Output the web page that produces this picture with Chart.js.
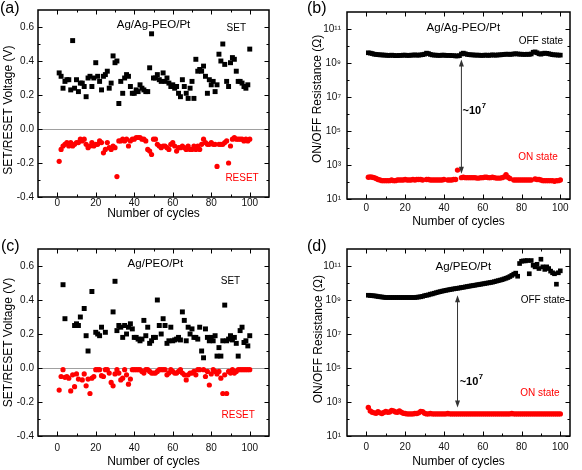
<!DOCTYPE html>
<html>
<head>
<meta charset="utf-8">
<title>Switching cycles</title>
<style>
  html, body { margin: 0; padding: 0; background: #fff; }
  canvas { position: absolute; }
  #ca { left: 0; top: 0; }
  #cb { left: 291px; top: 0; }
  #cc { left: 0; top: 235px; }
  #cd { left: 291px; top: 235px; }
</style>
</head>
<body>
<canvas id="ca" width="291" height="235"></canvas>
<canvas id="cb" width="291" height="235"></canvas>
<canvas id="cc" width="291" height="235"></canvas>
<canvas id="cd" width="291" height="235"></canvas>
<script src="https://cdn.jsdelivr.net/npm/chart.js"></script>
<script>
// ---- data ----
const cycles = Array.from({ length: 100 }, (_, i) => i + 1);

const setA = [0.33,0.31,0.24,0.28,0.29,0.29,0.23,0.52,0.24,0.29, 0.22,0.27,0.27,0.25,0.19,0.30,0.31,0.25,0.30,0.39,
  0.31,0.28,0.23,0.31,0.32,0.34,0.24,0.27,0.43,0.39, 0.40,0.15,0.28,0.21,0.30,0.32,0.31,0.25,0.21,0.21,
  0.23,0.22,0.26,0.24,0.23,0.22,0.22,0.36,0.56,0.30, 0.30,0.32,0.29,0.28,0.33,0.28,0.30,0.27,0.25,0.26,
  0.24,0.25,0.21,0.19,0.29,0.25,0.21,0.18,0.24,0.28, 0.18,0.41,0.34,0.35,0.34,0.37,0.31,0.21,0.29,0.26,
  0.28,0.22,0.26,0.44,0.40,0.50,0.38,0.28,0.25,0.39, 0.42,0.41,0.34,0.28,0.28,0.27,0.25,0.24,0.26,0.47];
const resetA = [-0.19,-0.12,-0.10,-0.09,-0.08,-0.10,-0.08,-0.10,-0.09,-0.08, -0.08,-0.06,-0.07,-0.06,-0.09,-0.11,-0.10,-0.08,-0.10,-0.09,
  -0.09,-0.07,-0.08,-0.14,-0.12,-0.08,-0.11,-0.12,-0.10,-0.11, -0.28,-0.07,-0.07,-0.06,-0.07,-0.06,-0.10,-0.07,-0.06,-0.06,
  -0.05,-0.05,-0.05,-0.06,-0.06,-0.07,-0.12,-0.13,-0.15,-0.06, -0.06,-0.09,-0.10,-0.11,-0.10,-0.10,-0.11,-0.12,-0.09,-0.08,
  -0.10,-0.13,-0.11,-0.11,-0.10,-0.11,-0.12,-0.10,-0.12,-0.12, -0.10,-0.12,-0.10,-0.12,-0.09,-0.06,-0.08,-0.09,-0.09,-0.08,
  -0.09,-0.09,-0.22,-0.09,-0.09,-0.09,-0.08,-0.07,-0.20,-0.10, -0.06,-0.05,-0.06,-0.06,-0.06,-0.06,-0.07,-0.06,-0.07,-0.06];

const offB = [4.0e9,3.8e9,3.6e9,3.3e9,3.2e9,3.1e9,3.0e9,3.0e9,2.9e9,2.9e9, 2.8e9,2.8e9,2.9e9,2.8e9,2.7e9,2.7e9,2.8e9,2.8e9,2.9e9,2.9e9,
  2.8e9,2.8e9,2.9e9,2.9e9,3.0e9,2.9e9,2.9e9,3.0e9,3.1e9,3.3e9, 3.8e9,3.6e9,3.2e9,3.0e9,2.9e9,2.9e9,2.8e9,2.8e9,2.9e9,2.9e9,
  2.8e9,2.8e9,2.8e9,2.7e9,2.7e9,2.6e9,2.6e9,2.7e9,3.4e9,3.8e9, 3.5e9,3.2e9,3.1e9,3.0e9,3.0e9,2.9e9,2.9e9,2.9e9,2.8e9,2.8e9,
  2.9e9,2.9e9,2.8e9,2.9e9,3.0e9,2.9e9,2.9e9,3.0e9,3.0e9,3.1e9, 3.2e9,3.3e9,3.3e9,3.2e9,3.3e9,3.4e9,3.5e9,3.4e9,3.3e9,3.3e9,
  3.2e9,3.2e9,3.3e9,3.2e9,3.4e9,4.3e9,4.5e9,4.0e9,3.5e9,3.3e9, 3.6e9,3.8e9,3.7e9,3.5e9,3.3e9,3.1e9,3.0e9,3.0e9,2.9e9,2.9e9];
const onB = [190,200,190,180,160,140,130,120,120,120, 120,120,130,120,120,130,130,130,130,140,
  130,130,130,140,130,140,140,140,130,null, 140,140,130,130,130,130,130,130,130,140,
  null,130,130,130,140,140,500,null,180,190, 180,180,180,180,180,180,170,170,180,180,
  190,190,180,180,190,180,170,170,170,180, 200,270,190,160,null,130,130,130,130,130,
  130,130,130,130,130,null,150,140,140,130, 120,120,120,120,120,120,110,120,120,130];

const setC = [null,null,0.49,0.29,null,null,null,null,0.25,0.26, 0.25,0.30,null,0.35,0.19,0.10,null,0.45,null,0.21,
  0.20,0.19,0.24,null,0.21,null,null,null,0.33,0.51, 0.22,0.25,0.24,0.18,0.25,0.20,0.24,0.26,0.23,0.18,
  0.18,0.17,0.16,0.17,0.28,0.19,0.24,0.145,0.16,0.18, 0.18,0.40,0.25,0.20,0.29,0.25,0.145,0.16,0.24,0.16,
  0.165,0.17,0.18,0.165,0.33,0.28,0.16,0.24,0.20,0.23, 0.18,0.18,0.17,0.24,0.10,0.06,0.23,0.18,0.16,0.18,
  0.16,0.19,0.07,0.12,0.07,0.16,0.37,0.16,0.17,0.19, 0.165,0.18,0.145,0.07,0.22,0.24,0.15,0.16,0.13,0.19];
const resetC = [-0.13,-0.05,-0.01,-0.055,-0.05,-0.06,-0.135,-0.04,-0.11,-0.035, -0.065,null,-0.07,-0.035,-0.105,-0.065,-0.15,-0.06,-0.05,-0.01,
  -0.01,-0.01,-0.045,-0.05,-0.01,-0.01,-0.03,-0.085,-0.105,-0.035, -0.01,-0.03,-0.07,-0.06,-0.01,-0.04,-0.095,-0.065,-0.01,-0.01,
  -0.01,-0.01,-0.01,-0.02,-0.03,-0.01,-0.01,-0.02,-0.03,-0.03, -0.03,-0.02,-0.01,-0.01,-0.01,-0.01,-0.04,-0.03,-0.01,-0.02,
  -0.03,-0.03,-0.02,-0.01,-0.03,-0.04,-0.07,-0.04,-0.03,-0.03, -0.02,-0.04,-0.01,-0.01,null,-0.01,-0.05,-0.02,-0.10,-0.035,
  -0.01,-0.02,-0.035,-0.02,-0.06,-0.15,-0.04,-0.15,-0.02,-0.03, -0.01,-0.03,-0.02,-0.01,-0.01,-0.01,-0.01,-0.01,-0.01,-0.01];

const offD = [1.9e9,1.85e9,1.8e9,1.75e9,1.7e9,1.6e9,1.55e9,1.5e9,1.45e9,1.4e9, 1.4e9,1.4e9,1.4e9,1.4e9,1.4e9,1.4e9,1.4e9,1.4e9,1.4e9,1.4e9,
  1.4e9,1.4e9,1.4e9,1.4e9,1.4e9,1.45e9,1.5e9,1.55e9,1.65e9,1.8e9, 1.9e9,2.0e9,2.2e9,2.3e9,2.5e9,2.7e9,2.9e9,3.1e9,3.3e9,3.5e9,
  3.7e9,3.9e9,4.1e9,4.3e9,4.5e9,4.7e9,4.9e9,5.1e9,5.4e9,5.6e9, 5.9e9,6.2e9,6.5e9,6.8e9,7.1e9,7.4e9,7.8e9,8.1e9,8.5e9,8.9e9,
  9.3e9,9.8e9,1.02e10,1.07e10,1.12e10,1.2e10,1.29e10,1.38e10,1.48e10,1.58e10, 1.74e10,1.9e10,2.1e10,2.4e10,2.8e10,3.3e10,3.8e10,2.5e10,1.4e11,1.9e11,
  2.0e11,2.0e11,2.1e11,3.5e10,2.1e11,1.1e11,8.9e10,1.26e11,7.1e10,2.5e11, 8.9e10,6.3e10,8.9e10,7.1e10,5.0e10,4.0e10,3.5e10,8.5e9,4.0e10,5.2e10];
const onD = [470,300,250,230,220,270,230,210,240,280, 250,260,320,300,260,250,300,250,220,210,
  200,200,200,200,210,210,230,280,270,220, 200,200,210,200,200,200,200,200,200,200,
  200,210,200,200,200,200,200,200,200,200, 200,200,200,200,200,200,200,200,200,200,
  200,200,200,200,200,200,200,200,200,200, 200,200,200,200,210,200,200,200,200,200,
  200,200,200,200,200,200,200,200,200,200, 200,200,200,200,200,200,200,200,200,200];

const cycleTicks = [0, 20, 40, 60, 80, 100];
const cycleMinor = [10, 30, 50, 70, 90];
const voltTicks = [-0.4, -0.2, 0, 0.2, 0.4, 0.6];
const voltMinor = [-0.3, -0.1, 0.1, 0.3, 0.5];
const resTicks = [1e1, 1e3, 1e5, 1e7, 1e9, 1e11];
const resMinor = [1e2, 1e4, 1e6, 1e8, 1e10];

// ---- drawing ----
const FONT = "'Liberation Sans', Arial, sans-serif";
Chart.defaults.font.family = FONT;
Chart.defaults.color = '#000';

const SUP = { '0': '\u2070', '1': '\u00b9', '2': '\u00b2', '3': '\u00b3', '4': '\u2074',
  '5': '\u2075', '6': '\u2076', '7': '\u2077', '8': '\u2078', '9': '\u2079' };
const pow10 = v => '10' + String(Math.round(Math.log10(v))).split('').map(c => SUP[c]).join('');
const pts = arr => arr.map((v, i) => ({ x: cycles[i], y: v }));

const deco = {
  id: 'deco',
  afterDatasetsDraw(chart, args, o) {
    const { ctx, chartArea: a, scales: { x, y } } = chart;
    ctx.save();
    ctx.strokeStyle = '#000';
    ctx.lineWidth = 1;
    ctx.beginPath();
    const xt = o.xMajor.map(v => [v, 4.5]).concat(o.xMinor.map(v => [v, 2.5]));
    xt.forEach(([v, len]) => {
      const p = Math.round(x.getPixelForValue(v)) + 0.5;
      ctx.moveTo(p, a.bottom); ctx.lineTo(p, a.bottom - len);
      ctx.moveTo(p, a.top); ctx.lineTo(p, a.top + len);
    });
    const yt = o.yMajor.map(v => [v, 4.5]).concat(o.yMinor.map(v => [v, 2.5]));
    yt.forEach(([v, len]) => {
      const p = Math.round(y.getPixelForValue(v)) + 0.5;
      ctx.moveTo(a.left, p); ctx.lineTo(a.left + len, p);
      ctx.moveTo(a.right, p); ctx.lineTo(a.right - len, p);
    });
    ctx.stroke();
    ctx.lineWidth = 1.5;
    ctx.strokeRect(a.left, a.top, a.right - a.left, a.bottom - a.top);

    // arrow
    if (o.arrow) {
      const ax = x.getPixelForValue(o.arrow.x);
      const y1 = y.getPixelForValue(o.arrow.from), y2 = y.getPixelForValue(o.arrow.to);
      ctx.strokeStyle = '#333'; ctx.fillStyle = '#333'; ctx.lineWidth = 1;
      ctx.beginPath(); ctx.moveTo(ax, y1 + 4); ctx.lineTo(ax, y2 - 4); ctx.stroke();
      ctx.beginPath();
      ctx.moveTo(ax, y1); ctx.lineTo(ax - 2.5, y1 + 7); ctx.lineTo(ax + 2.5, y1 + 7); ctx.closePath();
      ctx.moveTo(ax, y2); ctx.lineTo(ax - 2.5, y2 - 7); ctx.lineTo(ax + 2.5, y2 - 7); ctx.closePath();
      ctx.fill();
    }

    // notes
    ctx.textBaseline = 'middle';
    o.notes.forEach(n => {
      const px = x.getPixelForValue(n.x), py = y.getPixelForValue(n.y);
      ctx.fillStyle = n.color || '#000';
      const f = `${n.bold ? 'bold ' : ''}${n.size}px ${FONT}`;
      ctx.font = f;
      if (n.sup) {
        const w1 = ctx.measureText(n.text).width;
        ctx.font = `${n.bold ? 'bold ' : ''}${n.size * 0.7}px ${FONT}`;
        const w2 = ctx.measureText(n.sup).width;
        const left = px - (w1 + w2) / 2;
        ctx.textAlign = 'left';
        ctx.fillText(n.sup, left + w1 + 0.5, py - n.size * 0.4);
        ctx.font = f;
        ctx.fillText(n.text, left, py);
      } else {
        ctx.textAlign = 'center';
        ctx.fillText(n.text, px, py);
      }
    });

    // panel letter
    ctx.fillStyle = '#000';
    ctx.font = `16px ${FONT}`;
    ctx.textAlign = 'left';
    ctx.fillText(o.letter.text, o.letter.x, o.letter.y);
    ctx.restore();
  }
};

function panel(id, g, cfg) {
  const W = 291, H = 235;
  const logY = cfg.yType === 'logarithmic';
  new Chart(document.getElementById(id), {
    type: 'scatter',
    data: { datasets: cfg.datasets },
    options: {
      responsive: false,
      animation: false,
      layout: { padding: { left: 0, top: g.top, right: W - g.right, bottom: 0 } },
      plugins: {
        legend: { display: false },
        tooltip: { enabled: false },
        deco: cfg.deco
      },
      scales: {
        x: {
          type: 'linear', min: -10, max: cfg.xMax,
          afterFit: s => { s.height = H - g.bottom; },
          afterBuildTicks: s => { s.ticks = cycleTicks.map(v => ({ value: v })); },
          grid: { display: false, drawTicks: false },
          border: { display: false },
          ticks: { padding: g.xPad, autoSkip: false, maxRotation: 0, font: { size: 10 }, color: '#111' },
          title: { display: true, text: 'Number of cycles', font: { size: 12 }, padding: { top: 0, bottom: g.xTitlePad } }
        },
        y: {
          type: cfg.yType, min: cfg.yMin, max: cfg.yMax,
          afterFit: s => { s.width = g.left; },
          afterBuildTicks: s => { s.ticks = cfg.yTicks.map(v => ({ value: v })); },
          grid: {
            drawTicks: false,
            color: c => (!logY && c.tick && c.tick.value === 0) ? '#a0a0a0' : 'rgba(0,0,0,0)'
          },
          border: { display: false },
          ticks: {
            padding: g.yPad, autoSkip: false, font: { size: 10 }, color: '#111',
            callback: v => logY ? pow10(v) : Number(v).toFixed(1)
          },
          title: { display: true, text: cfg.yTitle, font: { size: 12 }, padding: { top: g.yTitlePad, bottom: 0 } }
        }
      }
    },
    plugins: [deco]
  });
}

const black = (arr, r) => ({ data: pts(arr), pointStyle: 'rect', pointRadius: r, backgroundColor: '#000', borderWidth: 0 });
const red = (arr, r) => ({ data: pts(arr), pointStyle: 'circle', pointRadius: r, backgroundColor: '#ff0000', borderWidth: 0 });

panel('ca', { left: 38, right: 269, top: 10, bottom: 197, xPad: 0, xTitlePad: 14, yPad: 4, yTitlePad: 1 }, {
  yType: 'linear', yMin: -0.4, yMax: 0.7, yTicks: voltTicks, xMax: 110,
  yTitle: 'SET/RESET Voltage (V)    ',
  datasets: [black(setA, 3.5), red(resetA, 2.6)],
  deco: {
    xMajor: cycleTicks, xMinor: cycleMinor, yMajor: voltTicks, yMinor: voltMinor,
    letter: { text: '(a)', x: 0, y: 9 },
    notes: [
      { text: 'Ag/Ag-PEO/Pt', x: 50, y: 0.61, size: 11.5 },
      { text: 'SET', x: 93, y: 0.59, size: 10 },
      { text: 'RESET', x: 96, y: -0.29, size: 10, color: '#ff0000' }
    ]
  }
});

panel('cb', { left: 56, right: 279, top: 12, bottom: 199, xPad: 3, xTitlePad: 6, yPad: 6, yTitlePad: 19 }, {
  yType: 'logarithmic', yMin: 1e1, yMax: 1e12, yTicks: resTicks, xMax: 105,
  yTitle: '    ON/OFF Resistance (\u03a9)',
  datasets: [black(offB, 3.3), red(onB, 2.7)],
  deco: {
    xMajor: cycleTicks, xMinor: cycleMinor, yMajor: resTicks, yMinor: resMinor,
    letter: { text: '(b)', x: 16, y: 9 },
    arrow: { x: 49, from: 1.6e9, to: 310 },
    notes: [
      { text: 'Ag/Ag-PEO/Pt', x: 50, y: 1.25e11, size: 11.5 },
      { text: 'OFF state', x: 90, y: 1.9e10, size: 10 },
      { text: '~10', sup: '7', x: 55.5, y: 1.6e6, size: 11, bold: true },
      { text: 'ON state', x: 88.5, y: 2.8e3, size: 10, color: '#ff0000' }
    ]
  }
});

panel('cc', { left: 38, right: 269, top: 14, bottom: 201, xPad: 6, xTitlePad: 1, yPad: 4, yTitlePad: 1 }, {
  yType: 'linear', yMin: -0.4, yMax: 0.7, yTicks: voltTicks, xMax: 110,
  yTitle: 'SET/RESET Voltage (V)',
  datasets: [black(setC, 3.5), red(resetC, 2.6)],
  deco: {
    xMajor: cycleTicks, xMinor: cycleMinor, yMajor: voltTicks, yMinor: voltMinor,
    letter: { text: '(c)', x: 1, y: 12 },
    notes: [
      { text: 'Ag/PEO/Pt', x: 51, y: 0.61, size: 11.5 },
      { text: 'SET', x: 90, y: 0.51, size: 10 },
      { text: 'RESET', x: 94, y: -0.28, size: 10, color: '#ff0000' }
    ]
  }
});

panel('cd', { left: 56, right: 279, top: 14, bottom: 201, xPad: 5, xTitlePad: 1, yPad: 6, yTitlePad: 20 }, {
  yType: 'logarithmic', yMin: 1e1, yMax: 1e12, yTicks: resTicks, xMax: 105,
  yTitle: '  ON/OFF Resistance (\u03a9)',
  datasets: [black(offD, 3.3), red(onD, 2.7)],
  deco: {
    xMajor: cycleTicks, xMinor: cycleMinor, yMajor: resTicks, yMinor: resMinor,
    letter: { text: '(d)', x: 16, y: 12 },
    arrow: { x: 47, from: 1.9e9, to: 470 },
    notes: [
      { text: 'Ag/PEO/Pt', x: 50, y: 9.5e10, size: 11.5 },
      { text: 'OFF state', x: 91, y: 9.5e8, size: 10 },
      { text: '~10', sup: '7', x: 54, y: 1.6e4, size: 11, bold: true },
      { text: 'ON state', x: 89.5, y: 3.2e3, size: 10, color: '#ff0000' }
    ]
  }
});
</script>
</body>
</html>
